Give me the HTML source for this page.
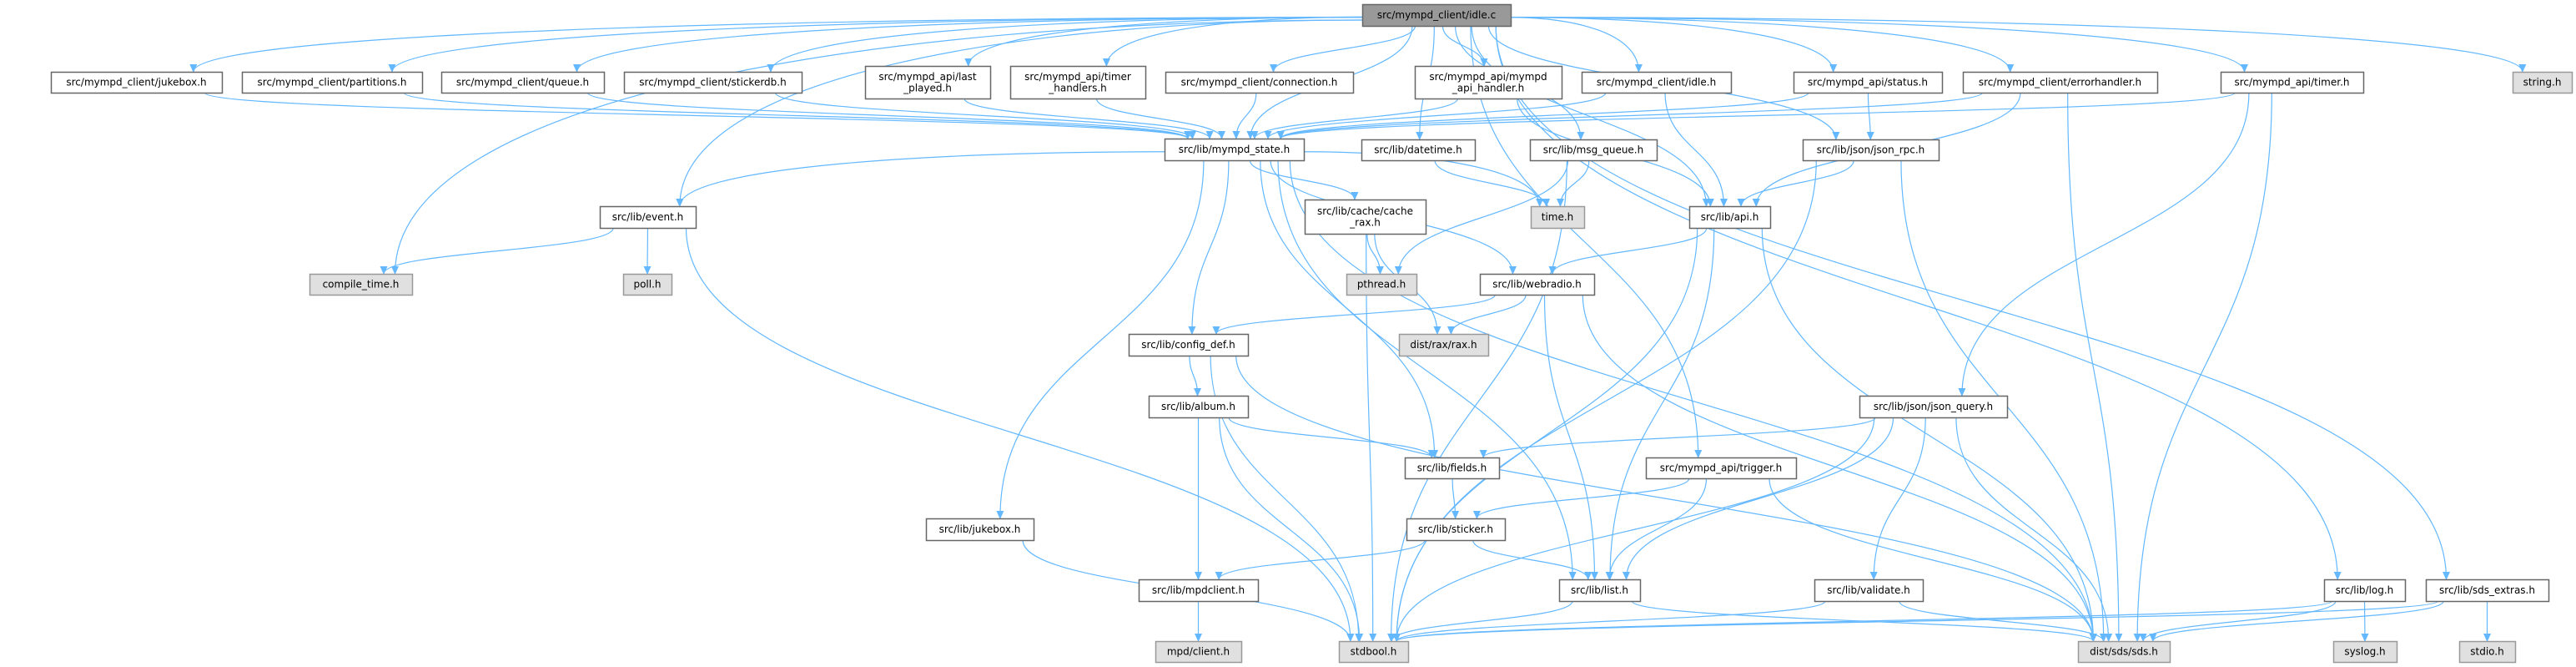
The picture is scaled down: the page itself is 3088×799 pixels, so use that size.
<!DOCTYPE html>
<html><head><meta charset="utf-8">
<style>
html,body{margin:0;padding:0;background:#fff;}
svg{display:block;}
text{font-family:"DejaVu Sans","Liberation Sans",sans-serif;font-size:12px;fill:#000;}
</style></head>
<body>
<svg id="g" xmlns="http://www.w3.org/2000/svg" width="3088" height="799" viewBox="0 0 3088 799">
<defs>
<marker id="ar" markerWidth="10" markerHeight="10" refX="9" refY="5" orient="auto" markerUnits="userSpaceOnUse">
<path d="M0,0.5 L10,5 L0,9.5 z" fill="#63b8ff"/>
</marker>
</defs>
<g id="edges"></g>
<g id="nodes"></g>
</svg>
<script>
var N={
root:[1633,5,1811,31,"src/mympd_client/idle.c",2],
cjuke:[61,86,266,111,"src/mympd_client/jukebox.h"],
cpart:[290,86,506,111,"src/mympd_client/partitions.h"],
cqueue:[529,86,724,111,"src/mympd_client/queue.h"],
cstick:[748,86,961,111,"src/mympd_client/stickerdb.h"],
lastp:[1037,79,1187,118,"src/mympd_api/last|_played.h"],
timerh:[1211,79,1373,118,"src/mympd_api/timer|_handlers.h"],
conn:[1397,86,1622,111,"src/mympd_client/connection.h"],
apih:[1696,79,1872,118,"src/mympd_api/mympd|_api_handler.h"],
cidle:[1896,86,2075,111,"src/mympd_client/idle.h"],
status:[2150,86,2328,111,"src/mympd_api/status.h"],
errh:[2353,86,2586,111,"src/mympd_client/errorhandler.h"],
timer:[2662,86,2833,111,"src/mympd_api/timer.h"],
string:[3012,86,3083,111,"string.h",1],
state:[1396,166,1563,192,"src/lib/mympd_state.h"],
dt:[1632,167,1768,192,"src/lib/datetime.h"],
msgq:[1834,167,1986,192,"src/lib/msg_queue.h"],
jrpc:[2161,167,2324,192,"src/lib/json/json_rpc.h"],
event:[719,247,834,273,"src/lib/event.h"],
crax:[1564,239,1709,280,"src/lib/cache/cache|_rax.h"],
time:[1835,247,1899,273,"time.h",1],
api:[2025,247,2122,273,"src/lib/api.h"],
ctime:[371,328,494,353,"compile_time.h",1],
poll:[747,328,805,353,"poll.h",1],
pthr:[1614,328,1698,353,"pthread.h",1],
web:[1774,328,1911,353,"src/lib/webradio.h"],
cfg:[1353,400,1496,426,"src/lib/config_def.h"],
rax:[1677,400,1784,426,"dist/rax/rax.h",1],
album:[1377,474,1496,500,"src/lib/album.h"],
jq:[2229,474,2406,500,"src/lib/json/json_query.h"],
fields:[1684,548,1797,573,"src/lib/fields.h"],
trig:[1973,548,2153,573,"src/mympd_api/trigger.h"],
ljuke:[1110,621,1239,647,"src/lib/jukebox.h"],
stick:[1686,621,1804,647,"src/lib/sticker.h"],
mpdc:[1365,694,1508,720,"src/lib/mpdclient.h"],
list:[1869,694,1966,720,"src/lib/list.h"],
valid:[2175,694,2305,720,"src/lib/validate.h"],
log:[2786,694,2883,720,"src/lib/log.h"],
sdsx:[2908,694,3055,720,"src/lib/sds_extras.h"],
mpdcl:[1385,768,1488,793,"mpd/client.h",1],
stdb:[1605,768,1688,793,"stdbool.h",1],
sds:[2491,768,2601,793,"dist/sds/sds.h",1],
syslog:[2797,768,2873,793,"syslog.h",1],
stdio:[2948,768,3015,793,"stdio.h",1]
};
var E=[
["root","cjuke"],["root","cpart"],["root","cqueue"],["root","cstick"],["root","lastp"],["root","timerh"],["root","conn"],["root","state"],["root","dt"],["root","apih"],["root","cidle"],["root","status"],["root","errh"],["root","timer"],["root","string"],["root","event"],["root","ctime"],["root","msgq"],["root","jrpc"],["root","trig"],["root","log"],["root","sdsx"],["root","api"],
["cjuke","state"],["cpart","state"],["cqueue","state"],["cstick","state"],["lastp","state"],["timerh","state"],["conn","state"],["apih","state"],["cidle","state"],["status","state"],["errh","state"],["timer","state"],
["apih","api"],["cidle","api"],["errh","api"],["jrpc","api"],["status","jrpc"],["timer","jq"],["timer","sds"],["errh","sds"],
["state","event"],["state","crax"],["state","time"],["state","cfg"],["state","ljuke"],["state","web"],["state","fields"],["state","list"],["state","sds"],
["event","ctime"],["event","poll"],["event","stdb"],["dt","time"],["msgq","time"],["msgq","pthr"],["msgq","stdb"],
["crax","pthr"],["crax","rax"],["crax","stdb"],["api","web"],["api","stdb"],["api","list"],["api","sds"],
["web","cfg"],["web","rax"],["web","list"],["web","sds"],["cfg","album"],["cfg","stdb"],["cfg","sds"],
["album","fields"],["album","mpdc"],["album","stdb"],["jq","fields"],["jq","list"],["jq","valid"],["jq","stdb"],["jq","sds"],
["trig","stick"],["trig","list"],["trig","sds"],["fields","stick"],["stick","mpdc"],["stick","list"],
["ljuke","stdb"],["mpdc","mpdcl"],["list","stdb"],["list","sds"],["valid","stdb"],["valid","sds"],
["log","stdb"],["log","sds"],["log","syslog"],["sdsx","stdb"],["sdsx","sds"],["sdsx","stdio"],["jrpc","stdb"],["jrpc","sds"]
];
var NS="http://www.w3.org/2000/svg";
var eg=document.getElementById("edges"),ng=document.getElementById("nodes");
function cl(v,a){return Math.max(-a,Math.min(a,v));}
E.forEach(function(e){
 var s=N[e[0]],t=N[e[1]];
 var scx=(s[0]+s[2])/2,tcx=(t[0]+t[2])/2,sw=s[2]-s[0],tw=t[2]-t[0];
 var ex=tcx+cl((scx-tcx)*0.08,tw/3),ey=t[1];
 var d,sx,sy;
 if((e[0]=="root"||e[0]=="state")&&Math.abs(tcx-scx)>4*(t[1]-s[3])){
  sy=(s[1]+s[3])/2+cl((t[1]-s[3])*0.05,6);
  sx=tcx<scx?s[0]:s[2];
  d="M"+sx+","+sy+" C"+((sx+ex)/2)+","+sy+" "+ex+","+(sy+(ey-sy)*0.3)+" "+ex+","+ey;
 } else {
  sx=scx+cl((tcx-scx)*0.12,sw/2.5);sy=s[3];
  var dy=ey-sy;
  d="M"+sx+","+sy+" C"+sx+","+(sy+dy*0.5)+" "+ex+","+(ey-dy*0.5)+" "+ex+","+ey;
 }
 var p=document.createElementNS(NS,"path");
 p.setAttribute("d",d);p.setAttribute("fill","none");p.setAttribute("stroke","#63b8ff");p.setAttribute("stroke-width","1.2");p.setAttribute("marker-end","url(#ar)");
 eg.appendChild(p);
});
for(var k in N){
 var n=N[k],r=document.createElementNS(NS,"rect");
 r.setAttribute("x",n[0]+0.5);r.setAttribute("y",n[1]+0.5);r.setAttribute("width",n[2]-n[0]);r.setAttribute("height",n[3]-n[1]);
 var ty=n[5]||0;
 r.setAttribute("fill",ty==2?"#999999":ty==1?"#e0e0e0":"#ffffff");
 r.setAttribute("stroke",ty==1?"#999999":"#666666");r.setAttribute("stroke-width","1.5");
 ng.appendChild(r);
 var lines=n[4].split("|"),cx=(n[0]+n[2])/2,cy=(n[1]+n[3])/2;
 lines.forEach(function(L,i){
  var tx=document.createElementNS(NS,"text");
  tx.setAttribute("x",cx);tx.setAttribute("y",cy+4+(i-(lines.length-1)/2)*13.5);
  tx.setAttribute("text-anchor","middle");tx.textContent=L;ng.appendChild(tx);
 });
}
</script>
</body></html>
